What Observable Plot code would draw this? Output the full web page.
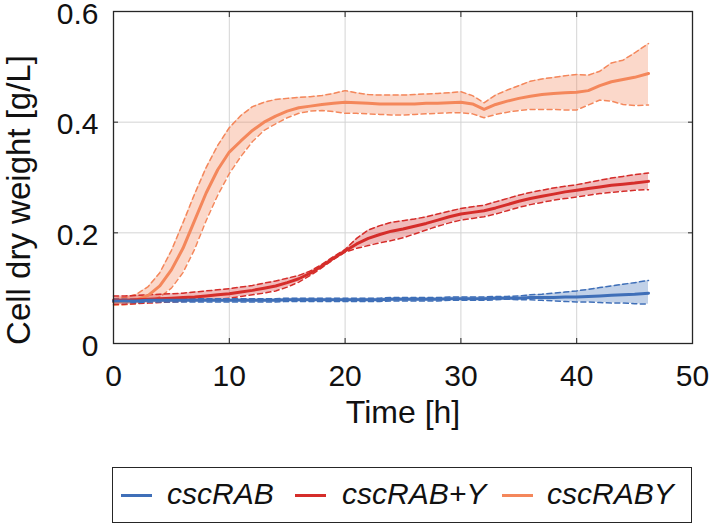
<!DOCTYPE html>
<html>
<head>
<meta charset="utf-8">
<script src="https://cdn.jsdelivr.net/npm/d3@7"></script>
<script src="https://cdn.jsdelivr.net/npm/@observablehq/plot@0.6"></script>
<style>
  body { margin: 0; background: #fff; font-family: "Liberation Sans", Arial, sans-serif; }
  #wrap { position: relative; width: 709px; height: 524px; overflow: hidden; }
  #chart svg { display: block; }
  #ylabel { position: absolute; left: 18px; top: 200px; width: 0; height: 0; }
  #ylabel span { position: absolute; left: 0; top: 0; transform: translate(-50%, -50%) rotate(-90deg); font-size: 33px; line-height: 33px; color: #111; white-space: nowrap; }
  #legend { position: absolute; left: 112px; top: 467px; width: 580px; height: 56px; border: 1.2px solid #262626; box-sizing: border-box; background: #fff; }
  .sw { position: absolute; top: 26px; width: 31px; height: 2.6px; }
  .lt { position: absolute; top: 11px; font-size: 30px; line-height: 30px; font-style: italic; color: #111; white-space: nowrap; }
</style>
</head>
<body>
<div id="wrap">
  <div id="chart"></div>
  <div id="ylabel"><span>Cell dry weight [g/L]</span></div>
  <div id="legend"></div>
</div>
<script>
// ---- data ----
const xTicks = [0, 10, 20, 30, 40, 50];
const yTicks = [0, 0.2, 0.4, 0.6];
const yTickLabels = ["0", "0.2", "0.4", "0.6"];
const xGrid = [10, 20, 30, 40];
const yGrid = [0.2, 0.4];

const seriesNames = ["cscRAB", "cscRAB+Y", "cscRABY"];
const seriesColors = ["#3f6fb8", "#d52d2a", "#f4875b"];

const time = [0,1,2,3,4,5,6,7,8,9,10,11,12,13,14,15,16,17,18,19,20,21,22,23,24,25,26,27,28,29,30,31,32,33,34,35,36,37,38,39,40,41,42,43,44,45,46.2];

// cscRABY (orange)
const rabyMean  = [0.075,0.076,0.079,0.087,0.104,0.133,0.172,0.222,0.272,0.314,0.346,0.366,0.385,0.400,0.411,0.420,0.426,0.429,0.432,0.434,0.436,0.435,0.434,0.433,0.433,0.433,0.433,0.434,0.434,0.435,0.436,0.433,0.423,0.432,0.438,0.443,0.447,0.450,0.452,0.453,0.454,0.457,0.466,0.473,0.477,0.481,0.488];
const rabyUpper = [0.081,0.083,0.089,0.103,0.128,0.168,0.218,0.270,0.318,0.358,0.390,0.412,0.428,0.436,0.441,0.443,0.445,0.446,0.448,0.452,0.457,0.453,0.450,0.449,0.449,0.449,0.450,0.451,0.452,0.453,0.455,0.448,0.435,0.449,0.458,0.466,0.474,0.478,0.481,0.484,0.486,0.485,0.492,0.507,0.512,0.525,0.542];
const rabyLower = [0.069,0.070,0.072,0.076,0.084,0.100,0.128,0.170,0.222,0.268,0.307,0.338,0.365,0.385,0.397,0.408,0.416,0.420,0.421,0.419,0.416,0.416,0.415,0.414,0.413,0.413,0.414,0.415,0.416,0.417,0.417,0.415,0.408,0.414,0.418,0.421,0.423,0.423,0.423,0.422,0.422,0.431,0.440,0.438,0.432,0.430,0.431];

// cscRAB+Y (red)
const rabpyMean  = [0.078,0.078,0.079,0.080,0.081,0.082,0.083,0.084,0.086,0.088,0.090,0.093,0.096,0.100,0.104,0.110,0.117,0.127,0.140,0.154,0.167,0.180,0.190,0.197,0.203,0.207,0.212,0.217,0.223,0.229,0.234,0.237,0.240,0.245,0.251,0.257,0.262,0.266,0.270,0.274,0.277,0.280,0.283,0.286,0.288,0.290,0.293];
const rabpyUpper = [0.086,0.086,0.087,0.088,0.089,0.090,0.091,0.093,0.095,0.097,0.099,0.102,0.105,0.109,0.113,0.118,0.123,0.131,0.143,0.157,0.170,0.190,0.205,0.213,0.219,0.222,0.225,0.229,0.234,0.239,0.244,0.247,0.250,0.256,0.262,0.268,0.273,0.277,0.281,0.284,0.287,0.291,0.295,0.299,0.302,0.305,0.308];
const rabpyLower = [0.071,0.071,0.072,0.073,0.074,0.075,0.076,0.077,0.078,0.080,0.082,0.085,0.088,0.091,0.095,0.102,0.111,0.123,0.137,0.152,0.165,0.172,0.177,0.182,0.186,0.191,0.198,0.205,0.212,0.218,0.223,0.226,0.229,0.234,0.240,0.246,0.251,0.255,0.259,0.262,0.265,0.268,0.271,0.273,0.275,0.277,0.278];

// cscRAB (blue)
const rabMean  = [0.077,0.077,0.077,0.078,0.078,0.078,0.078,0.078,0.078,0.078,0.078,0.078,0.078,0.078,0.078,0.079,0.079,0.079,0.079,0.079,0.079,0.079,0.079,0.079,0.080,0.080,0.080,0.080,0.080,0.081,0.081,0.081,0.081,0.082,0.082,0.082,0.083,0.083,0.083,0.084,0.084,0.085,0.086,0.087,0.088,0.089,0.091];
const rabUpper = [0.080,0.080,0.080,0.081,0.081,0.081,0.081,0.081,0.081,0.081,0.081,0.081,0.081,0.081,0.081,0.082,0.082,0.082,0.082,0.082,0.082,0.082,0.082,0.082,0.083,0.083,0.083,0.083,0.083,0.084,0.084,0.084,0.084,0.085,0.085,0.086,0.088,0.089,0.091,0.093,0.095,0.098,0.101,0.104,0.107,0.110,0.114];
const rabLower = [0.074,0.074,0.074,0.075,0.075,0.075,0.075,0.075,0.075,0.075,0.075,0.075,0.075,0.075,0.075,0.076,0.076,0.076,0.076,0.076,0.076,0.076,0.076,0.076,0.077,0.077,0.077,0.077,0.077,0.078,0.078,0.078,0.078,0.079,0.080,0.079,0.079,0.078,0.077,0.076,0.075,0.075,0.074,0.073,0.073,0.072,0.071];

// ---- build tables ----
const seriesData = [
  {name: seriesNames[0], color: seriesColors[0], mean: rabMean, upper: rabUpper, lower: rabLower},
  {name: seriesNames[1], color: seriesColors[1], mean: rabpyMean, upper: rabpyUpper, lower: rabpyLower},
  {name: seriesNames[2], color: seriesColors[2], mean: rabyMean, upper: rabyUpper, lower: rabyLower}
].map(s => ({...s, rows: time.map((t, i) => ({t, m: s.mean[i], hi: s.upper[i], lo: s.lower[i]}))}));

const drawOrder = [2, 1, 0];
const seriesMarks = [];
for (const k of drawOrder) {
  const s = seriesData[k];
  seriesMarks.push(
    Plot.areaY(s.rows, {x: "t", y1: "lo", y2: "hi", fill: s.color, fillOpacity: 0.32, curve: "linear"}),
    Plot.line(s.rows, {x: "t", y: "hi", stroke: s.color, strokeWidth: 1.5, strokeDasharray: "5,3.5", curve: "linear"}),
    Plot.line(s.rows, {x: "t", y: "lo", stroke: s.color, strokeWidth: 1.5, strokeDasharray: "5,3.5", curve: "linear"})
  );
}
for (const k of drawOrder) {
  const s = seriesData[k];
  seriesMarks.push(Plot.line(s.rows, {x: "t", y: "m", stroke: s.color, strokeWidth: 3, curve: "linear"}));
}

const fontFamily = "'Liberation Sans', Arial, Helvetica, sans-serif";

const chart = Plot.plot({
  width: 709,
  height: 460,
  marginLeft: 113,
  marginRight: 17,
  marginTop: 11,
  marginBottom: 117,
  style: {fontFamily, fontSize: "30px", color: "#111", background: "#fff", overflow: "visible"},
  x: {domain: [0, 50]},
  y: {domain: [0, 0.6]},
  marks: [
    Plot.gridX(xGrid, {stroke: "#d4d4d4", strokeOpacity: 1, strokeWidth: 1}),
    Plot.gridY(yGrid, {stroke: "#d4d4d4", strokeOpacity: 1, strokeWidth: 1}),
    ...seriesMarks,
    Plot.axisX(xTicks, {anchor: "bottom", tickSize: 0, tickPadding: 21, fontSize: 30, label: null, stroke: null}),
    Plot.axisX(xTicks, {anchor: "bottom", tickSize: -5, tickFormat: () => "", label: null, stroke: "#262626"}),
    Plot.axisX(xTicks, {anchor: "top", tickSize: -5, tickFormat: () => "", label: null, stroke: "#262626"}),
    Plot.axisY(yTicks, {anchor: "left", tickSize: 0, tickPadding: 15, fontSize: 30, dy: 2.5, label: null, tickFormat: (d) => yTickLabels[yTicks.indexOf(d)]}),
    Plot.axisY(yTicks, {anchor: "left", tickSize: -5, tickFormat: () => "", label: null, stroke: "#262626"}),
    Plot.axisY(yTicks, {anchor: "right", tickSize: -5, tickFormat: () => "", label: null, stroke: "#262626"}),
    Plot.frame({stroke: "#262626", strokeWidth: 1.3}),
    Plot.text(["Time [h]"], {frameAnchor: "bottom", dy: 79, fontSize: 32, text: d => d, fill: "#111"})
  ]
});
document.getElementById("chart").appendChild(chart);

// ---- legend ----
const legend = document.getElementById("legend");
const swatchLeft = [8, 182, 389];
const textLeft = [54, 229, 434];
seriesNames.forEach((name, i) => {
  const sw = document.createElement("div");
  sw.className = "sw";
  sw.style.left = swatchLeft[i] + "px";
  sw.style.background = seriesColors[i];
  legend.appendChild(sw);
  const tx = document.createElement("div");
  tx.className = "lt";
  tx.style.left = textLeft[i] + "px";
  tx.textContent = name;
  legend.appendChild(tx);
});
</script>
</body>
</html>
